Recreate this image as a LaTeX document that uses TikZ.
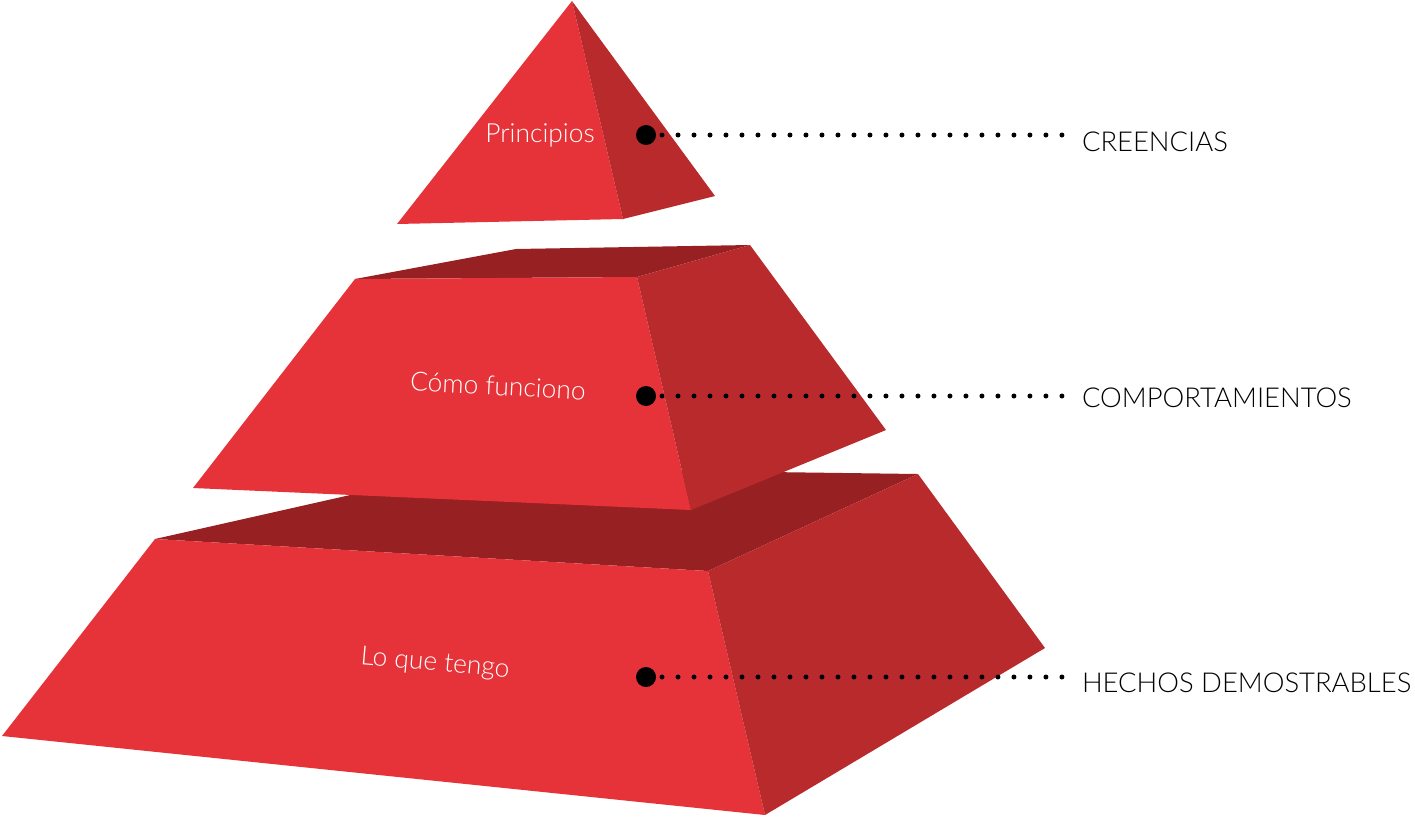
\documentclass[tikz,border=0pt]{standalone}
\usepackage{fontspec}
\setmainfont{Lato}[UprightFont=* Light]
\usetikzlibrary{positioning}

\definecolor{face front}{RGB}{230,51,57}
\definecolor{face side}{RGB}{185,42,45}
\definecolor{face top}{RGB}{151,32,34}

\begin{document}
\begin{tikzpicture}[x=0.02cm,y=-0.02cm,font=\fontsize{15}{18}\selectfont]
\tikzset{every node/.style={inner sep=0mm, outer sep=0mm}}

\tikzstyle{front}=[fill=face front]
\tikzstyle{side}=[fill=face side]
\tikzstyle{top}=[fill=face top]
\tikzstyle{level}=[text=white]
\tikzstyle{big dot}=[circle, fill=black, minimum size=0.4cm]
\tikzstyle{dot line}=[line width=0.1cm, line cap=round, dash pattern=on 0pt off 0.32cm]
\tikzstyle{category}=[anchor=west, text=black, font=\fontsize{15.6}{18}\selectfont]

\useasboundingbox (0,0) rectangle (1415,818);

% bottom block
\coordinate (lo top left) at (155,539);
\coordinate (lo top back) at (470,468);
\coordinate (lo top far) at (918,474);
\coordinate (lo top right) at (708,571);
\coordinate (lo bottom left) at (2,736);
\coordinate (lo bottom right) at (765,815);
\coordinate (lo bottom far) at (1045,648);

\fill[top] (lo top left) -- (lo top back) -- (lo top far) -- (lo top right) -- cycle;
\fill[front] (lo top left) -- (lo top right) -- (lo bottom right) -- (lo bottom left) -- cycle;
\fill[side] (lo top right) -- (lo top far) -- (lo bottom far) -- (lo bottom right) -- cycle;

% middle block
\coordinate (como top left) at (355,279);
\coordinate (como top back) at (516,249);
\coordinate (como top far) at (750,245);
\coordinate (como top right) at (637,277);
\coordinate (como bottom left) at (193,488);
\coordinate (como bottom right) at (691,510);
\coordinate (como bottom far) at (886,430);

\fill[top] (como top left) -- (como top back) -- (como top far) -- (como top right) -- cycle;
\fill[front] (como top left) -- (como top right) -- (como bottom right) -- (como bottom left) -- cycle;
\fill[side] (como top right) -- (como top far) -- (como bottom far) -- (como bottom right) -- cycle;

% top pyramid
\coordinate (apex) at (572,1);
\coordinate (principios left) at (397,224);
\coordinate (principios right) at (623,219);
\coordinate (principios far) at (715,196);

\fill[front] (apex) -- (principios right) -- (principios left) -- cycle;
\fill[side] (apex) -- (principios far) -- (principios right) -- cycle;

% level names
\node[level] (principios text) at (540,135) {Principios};
\node[level, rotate=-3] (como text) at (498,386) {Cómo funciono};
\node[level, rotate=-5] (lo text) at (435,664) {Lo que tengo};

% markers
\node[big dot] (principios dot) at (646,135) {};
\node[big dot] (como dot) at (646,396) {};
\node[big dot] (lo dot) at (646,677) {};

\coordinate (creencias end) at (1062,135);
\coordinate (comportamientos end) at (1062,396);
\coordinate (hechos end) at (1062,677);

\draw[dot line] (principios dot.center) -- (creencias end);
\draw[dot line] (como dot.center) -- (comportamientos end);
\draw[dot line] (lo dot.center) -- (hechos end);

\node[category, right=20 of creencias end, yshift=-0.14cm] (creencias) {CREENCIAS};
\node[category, right=20 of comportamientos end, yshift=-0.04cm] (comportamientos) {COMPORTAMIENTOS};
\node[category, right=20 of hechos end, yshift=-0.12cm] (hechos) {HECHOS DEMOSTRABLES};

\end{tikzpicture}
\end{document}
